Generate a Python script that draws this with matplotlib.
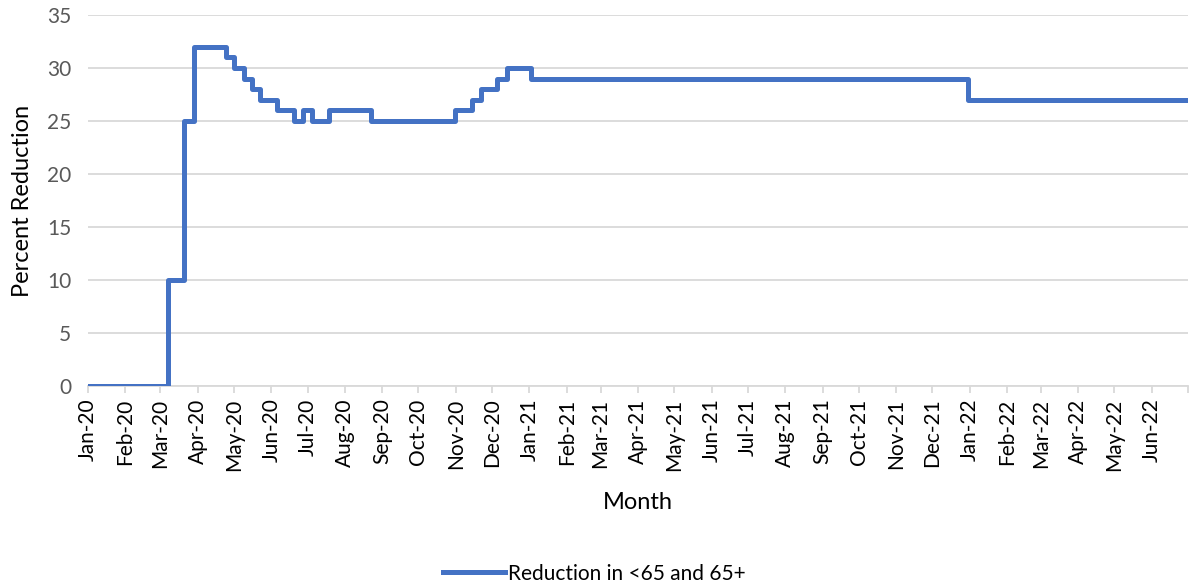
import numpy as np
import pandas as pd
import matplotlib
matplotlib.use('Agg')
import matplotlib.pyplot as plt
import matplotlib.dates as mdates

# Dates at which the reduction changes, and the value held from that date on.
change_dates = ['2020-01-01', '2020-03-07', '2020-03-21', '2020-03-29',
                '2020-04-24', '2020-05-01', '2020-05-09', '2020-05-16',
                '2020-05-23', '2020-06-06', '2020-06-20', '2020-06-27',
                '2020-07-05', '2020-07-19', '2020-08-23', '2020-10-31',
                '2020-11-14', '2020-11-22', '2020-12-05', '2020-12-13',
                '2021-01-02', '2021-12-31', '2022-07-01']
reduction = [0, 10, 25, 32, 31, 30, 29, 28, 27, 26, 25, 26, 25, 26, 25,
             26, 27, 28, 29, 30, 29, 27, 27]
series_label = 'Reduction in <65 and 65+'

dates = pd.to_datetime(change_dates)
month_ticks = pd.date_range('2020-01-01', '2022-06-01', freq='MS')

plt.rcParams['font.family'] = ['Lato', 'DejaVu Sans']

fig = plt.figure(figsize=(11.89, 5.86), dpi=100)
ax = fig.add_axes([88 / 1189, 1 - 386 / 586, 1100 / 1189, 371 / 586])

ax.step(dates, reduction, where='post', color='#4472C4', linewidth=3.6,
        solid_joinstyle='round', label=series_label, zorder=3)

ax.set_xlim(pd.Timestamp('2020-01-01'), pd.Timestamp('2022-07-01'))
ax.set_ylim(0, 35)
ax.set_yticks(range(0, 36, 5))

ax.set_xticks(month_ticks)
ax.xaxis.set_major_formatter(mdates.DateFormatter('%b-%y'))
# tick mark at the right end of the axis, without a label
ax.set_xticks([pd.Timestamp('2022-07-01')], minor=True)
plt.setp(ax.get_xticklabels(), rotation=90)

ax.grid(axis='y', color='#d9d9d9', linewidth=1.3)
ax.set_axisbelow(True)
for side in ['top', 'right', 'left']:
    ax.spines[side].set_visible(False)
ax.spines['bottom'].set_color('#d9d9d9')
ax.spines['bottom'].set_linewidth(1.3)

ax.tick_params(axis='x', which='both', colors='#d9d9d9', length=5, width=1.3,
               labelcolor='black', labelsize=15, pad=4)
ax.tick_params(axis='y', length=0, labelcolor='#595959', labelsize=15, pad=12)

ax.set_xlabel('Month', fontsize=17, labelpad=15)
ax.set_ylabel('Percent Reduction', fontsize=17, labelpad=10)

fig.legend(loc='lower center', bbox_to_anchor=(0.5, -0.028), frameon=False,
           fontsize=15, handlelength=3, handletextpad=0.15)

fig.savefig('out.png', dpi=100)
